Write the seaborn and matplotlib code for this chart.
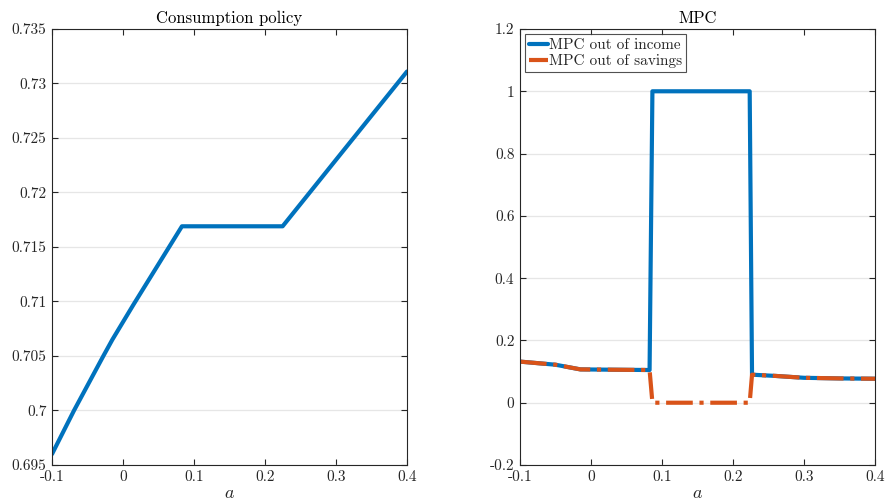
import matplotlib
matplotlib.use("Agg")
import matplotlib.pyplot as plt
import matplotlib.ticker as mticker
import seaborn as sns
import pandas as pd

# ---- data ----
a_cons = [-0.1, -0.069, -0.0277, -0.015, 0.0146, 0.083, 0.15, 0.2248, 0.3, 0.4]
cons = [0.6960, 0.7000, 0.7050, 0.7065, 0.7097, 0.7169, 0.7169, 0.7169, 0.7230, 0.7311]

a_mpc = [-0.1, -0.05, -0.015, 0.03, 0.0825, 0.0865, 0.15, 0.2235, 0.2268, 0.26, 0.3, 0.35, 0.4]
mpc_income = [0.132, 0.122, 0.107, 0.106, 0.105, 1.0, 1.0, 1.0, 0.090, 0.086, 0.080, 0.078, 0.077]
mpc_savings = [0.132, 0.122, 0.107, 0.106, 0.105, 0.0, 0.0, 0.0, 0.090, 0.086, 0.080, 0.078, 0.077]

x_ticks = [-0.1, 0, 0.1, 0.2, 0.3, 0.4]
cons_ticks = [0.695, 0.7, 0.705, 0.71, 0.715, 0.72, 0.725, 0.73, 0.735]
mpc_ticks = [-0.2, 0, 0.2, 0.4, 0.6, 0.8, 1.0, 1.2]

BLUE = "#0072BD"
ORANGE = "#D95319"

sns.set_theme(style="white")
plt.rcParams.update({
    "font.family": ["cmr10", "DejaVu Serif"],
    "mathtext.fontset": "cm",
    "axes.unicode_minus": False,
    "axes.formatter.use_mathtext": True,
    "font.size": 11,
})

df_c = pd.DataFrame({"a": a_cons, "c": cons})
df_m = pd.DataFrame({"a": a_mpc, "income": mpc_income, "savings": mpc_savings})

fig = plt.figure(figsize=(8.86, 5.04), dpi=100)
W, H = 886, 504
ax1 = fig.add_axes([52 / W, 1 - 465 / H, 355 / W, 436 / H])
ax2 = fig.add_axes([520 / W, 1 - 465 / H, 355 / W, 436 / H])

fmt = mticker.FuncFormatter(lambda v, p: ("%g" % round(v, 6)))

sns.lineplot(data=df_c, x="a", y="c", ax=ax1, color=BLUE, linewidth=3.0,
             estimator=None, sort=False)
sns.lineplot(data=df_m, x="a", y="income", ax=ax2, color=BLUE, linewidth=3.0,
             estimator=None, sort=False, label="MPC out of income")
sns.lineplot(data=df_m, x="a", y="savings", ax=ax2, color=ORANGE, linewidth=3.0,
             linestyle="-.", estimator=None, sort=False, label="MPC out of savings")

for ax, yt, title in [(ax1, cons_ticks, "Consumption policy"), (ax2, mpc_ticks, "MPC")]:
    ax.set_xlim(-0.1, 0.4)
    ax.set_ylim(yt[0], yt[-1])
    ax.set_xticks(x_ticks)
    ax.set_yticks(yt)
    ax.xaxis.set_major_formatter(fmt)
    ax.yaxis.set_major_formatter(fmt)
    ax.grid(axis="y", color="#e6e6e6", linewidth=0.9)
    ax.set_axisbelow(True)
    ax.tick_params(direction="in", length=4, width=0.8, color="#262626",
                   top=True, right=True, bottom=True, left=True,
                   labelsize=11, labelcolor="#262626", pad=4)
    for s in ax.spines.values():
        s.set_color("#262626")
        s.set_linewidth(0.8)
    ax.set_xlabel("$a$", fontsize=13, color="#262626", labelpad=1)
    ax.set_ylabel("")
    ax.set_title(title, fontsize=12, color="black", pad=4)

leg = ax2.legend(loc="upper left", fancybox=False, frameon=True, fontsize=11,
                 handlelength=1.2, handletextpad=0.1, borderpad=0.25,
                 labelspacing=0.15, borderaxespad=0.35)
leg.get_frame().set_edgecolor("#262626")
leg.get_frame().set_linewidth(0.8)

fig.savefig("out.png", dpi=100)
